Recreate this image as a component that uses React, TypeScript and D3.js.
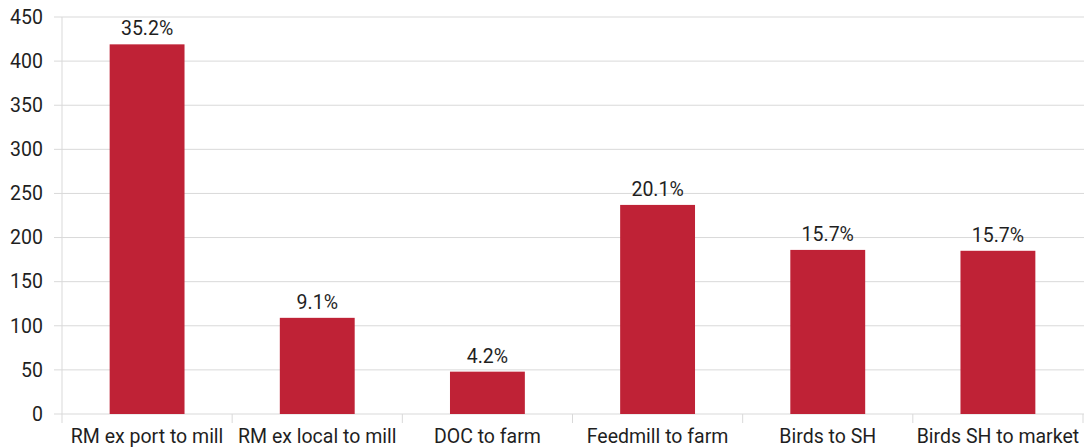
import React from 'react';
import * as d3 from 'd3';

const categories = [
  'RM ex port to mill',
  'RM ex local to mill',
  'DOC to farm',
  'Feedmill to farm',
  'Birds to SH',
  'Birds SH to market',
];
const values = [419, 109, 48, 237, 186, 185];
const shareLabels = ['35.2%', '9.1%', '4.2%', '20.1%', '15.7%', '15.7%'];
const yTicks = [0, 50, 100, 150, 200, 250, 300, 350, 400, 450];

const W = 1084;
const H = 447;
const margin = { top: 17, right: 1, bottom: 33, left: 62 };
const barColor = '#BF2236';
const gridColor = '#D9D9D9';
const textColor = '#1f1f1f';
const font = 'Roboto, "DejaVu Sans", sans-serif';
const fs = 19.5;

export default function App() {
  const x = d3
    .scaleBand<string>()
    .domain(categories)
    .range([margin.left, W - margin.right])
    .paddingInner(0.56)
    .paddingOuter(0.28);
  const step = x.step();
  const y = d3
    .scaleLinear()
    .domain([0, 450])
    .range([H - margin.bottom, margin.top]);
  const y0 = y(0);

  return (
    <svg
      width={W}
      height={H}
      style={{ position: 'absolute', left: 0, top: 0, display: 'block' }}
      fontFamily={font}
    >
      {/* grid + y labels */}
      {yTicks.map(t => (
        <g key={t}>
          <line x1={54} x2={W} y1={y(t)} y2={y(t)} stroke={gridColor} strokeWidth={1} />
          <text
            x={43}
            y={y(t)}
            dy="0.35em"
            textAnchor="end"
            fontSize={fs}
            fill={textColor}
          >
            {t}
          </text>
        </g>
      ))}
      {/* y axis line */}
      <line x1={margin.left} x2={margin.left} y1={y(450)} y2={y0 + 9} stroke={gridColor} />
      {/* category boundary ticks */}
      {categories.map((c, i) => {
        const bx = margin.left + step * (i + 1);
        return <line key={c} x1={bx} x2={bx} y1={y0} y2={y0 + 9} stroke={gridColor} />;
      })}
      {/* bars */}
      {categories.map((c, i) => (
        <rect
          key={c}
          x={x(c)}
          y={y(values[i])}
          width={x.bandwidth()}
          height={y0 - y(values[i])}
          fill={barColor}
        />
      ))}
      {/* value labels */}
      {categories.map((c, i) => (
        <text
          key={c}
          x={(x(c) || 0) + x.bandwidth() / 2}
          y={y(values[i]) - 9}
          textAnchor="middle"
          fontSize={fs}
          fill={textColor}
        >
          {shareLabels[i]}
        </text>
      ))}
      {/* category labels */}
      {categories.map(c => (
        <text
          key={c}
          x={(x(c) || 0) + x.bandwidth() / 2}
          y={443}
          textAnchor="middle"
          fontSize={fs}
          fill={textColor}
        >
          {c}
        </text>
      ))}
    </svg>
  );
}
